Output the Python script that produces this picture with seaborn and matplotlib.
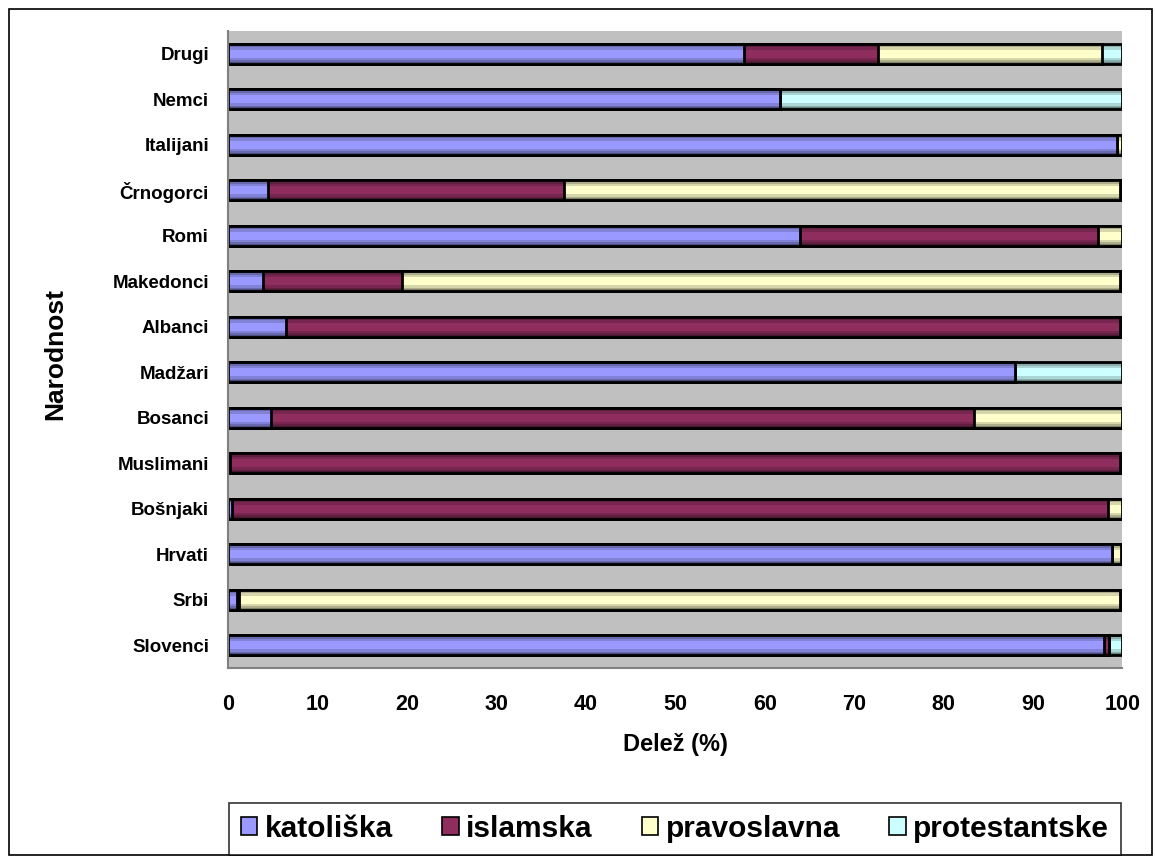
import numpy as np
import pandas as pd
import matplotlib
matplotlib.use("Agg")
import matplotlib.pyplot as plt
from matplotlib.patches import Rectangle
import seaborn as sns

# Nationalities, listed top to bottom
narodnosti = ["Drugi", "Nemci", "Italijani", "Črnogorci", "Romi", "Makedonci",
              "Albanci", "Madžari", "Bosanci", "Muslimani", "Bošnjaki",
              "Hrvati", "Srbi", "Slovenci"]

# Share of each religion (%) per nationality
katoliska     = [57.7, 61.7, 99.4,  4.4, 63.9,  3.9,  6.4, 88.0,  4.8,  0.2,  0.4, 98.8,  0.9, 97.9]
islamska      = [15.0,  0.0,  0.0, 33.1, 33.4, 15.5, 93.3,  0.0, 78.6, 99.5, 98.0,  0.0,  0.3,  0.6]
pravoslavna   = [25.0,  0.0,  0.6, 62.2,  2.7, 80.3,  0.0,  0.0, 16.6,  0.0,  1.6,  1.0, 98.5,  0.0]
protestantske = [ 2.3, 38.3,  0.0,  0.3,  0.0,  0.3,  0.3, 12.0,  0.0,  0.3,  0.0,  0.2,  0.3,  1.5]

vere = ["katoliška", "islamska", "pravoslavna", "protestantske"]
barve = ["#9999FF", "#8E2D5E", "#FFFFCC", "#CCFFFF"]

df = pd.DataFrame({"Narodnost": narodnosti,
                   "katoliška": katoliska, "islamska": islamska,
                   "pravoslavna": pravoslavna, "protestantske": protestantske})
cum = df[vere].cumsum(axis=1)

sns.set_theme(style="white")
plt.rcParams["font.family"] = ["Liberation Sans", "DejaVu Sans"]
plt.rcParams["font.weight"] = "bold"
plt.rcParams["text.color"] = "black"
plt.rcParams["axes.labelcolor"] = "black"
plt.rcParams["xtick.labelcolor"] = "black"
plt.rcParams["ytick.labelcolor"] = "black"

fig = plt.figure(figsize=(11.55, 8.56), dpi=100)
ax = fig.add_axes([0.1978, 0.2196, 0.7740, 0.7442])
ax.set_facecolor("#C0C0C0")

BAR_H = 0.44


def shade(col, f):
    rgb = np.array(matplotlib.colors.to_rgb(col))
    return tuple(rgb * f)


# Stacked bars: draw cumulative totals from the last religion to the first,
# each one as a few nested bands to give the cylindrical shading.
bands = [(1.00, 0.50), (0.82, 0.68), (0.64, 0.84), (0.42, 1.00)]
for vera, barva in zip(vere[::-1], barve[::-1]):
    data = pd.DataFrame({"Narodnost": narodnosti, "val": cum[vera]})
    for rel_w, f in bands:
        sns.barplot(data=data, x="val", y="Narodnost", order=narodnosti,
                    orient="y", width=BAR_H * rel_w, color=shade(barva, f),
                    saturation=1, errorbar=None, linewidth=0, ax=ax)
    sns.barplot(data=data, x="val", y="Narodnost", order=narodnosti,
                orient="y", width=BAR_H, facecolor="none", edgecolor="black",
                saturation=1, errorbar=None, linewidth=2.0, ax=ax)

ax.set_xlim(0, 100)
ax.set_ylim(len(narodnosti) - 0.5, -0.5)
ax.set_xticks(np.arange(0, 101, 10))
ax.tick_params(axis="x", direction="out", length=7, width=1, color="#404040",
               pad=12, labelsize=15.5)
ax.tick_params(axis="y", length=0, pad=14, labelsize=13.5)
for lab in ax.get_xticklabels() + ax.get_yticklabels():
    lab.set_fontweight("bold")

for side in ["top", "right"]:
    ax.spines[side].set_visible(False)
for side in ["left", "bottom"]:
    ax.spines[side].set_color("#808080")
    ax.spines[side].set_linewidth(1.5)

ax.set_xlabel("Delež (%)", fontsize=17, fontweight="bold", labelpad=13)
ax.set_ylabel("")
fig.text(55 / 1155, 1 - 354 / 856, "Narodnost", rotation=90, ha="center",
         va="center", fontsize=19, fontweight="bold")

handles = [Rectangle((0, 0), 1, 1, facecolor=b, edgecolor="black", linewidth=1.2)
           for b in barve]
leg = fig.legend(handles, vere, loc="lower left",
                 bbox_to_anchor=(229 / 1155, 1 / 856, (1121 - 229) / 1155, 54 / 856),
                 mode="expand", ncol=4, frameon=True, fancybox=False,
                 edgecolor="black", handlelength=0.55, handleheight=0.55,
                 handletextpad=0.25, columnspacing=0.6, borderaxespad=0,
                 borderpad=0.4, prop={"size": 21.5, "weight": "bold"})
leg.get_frame().set_linewidth(1.2)

# Outer chart frame
fig.patches.append(Rectangle((9 / 1155, 1 / 856), 1143 / 1155, 846 / 856,
                             transform=fig.transFigure, fill=False,
                             edgecolor="black", linewidth=1.2))

fig.savefig("out.png", dpi=100, facecolor="white")
